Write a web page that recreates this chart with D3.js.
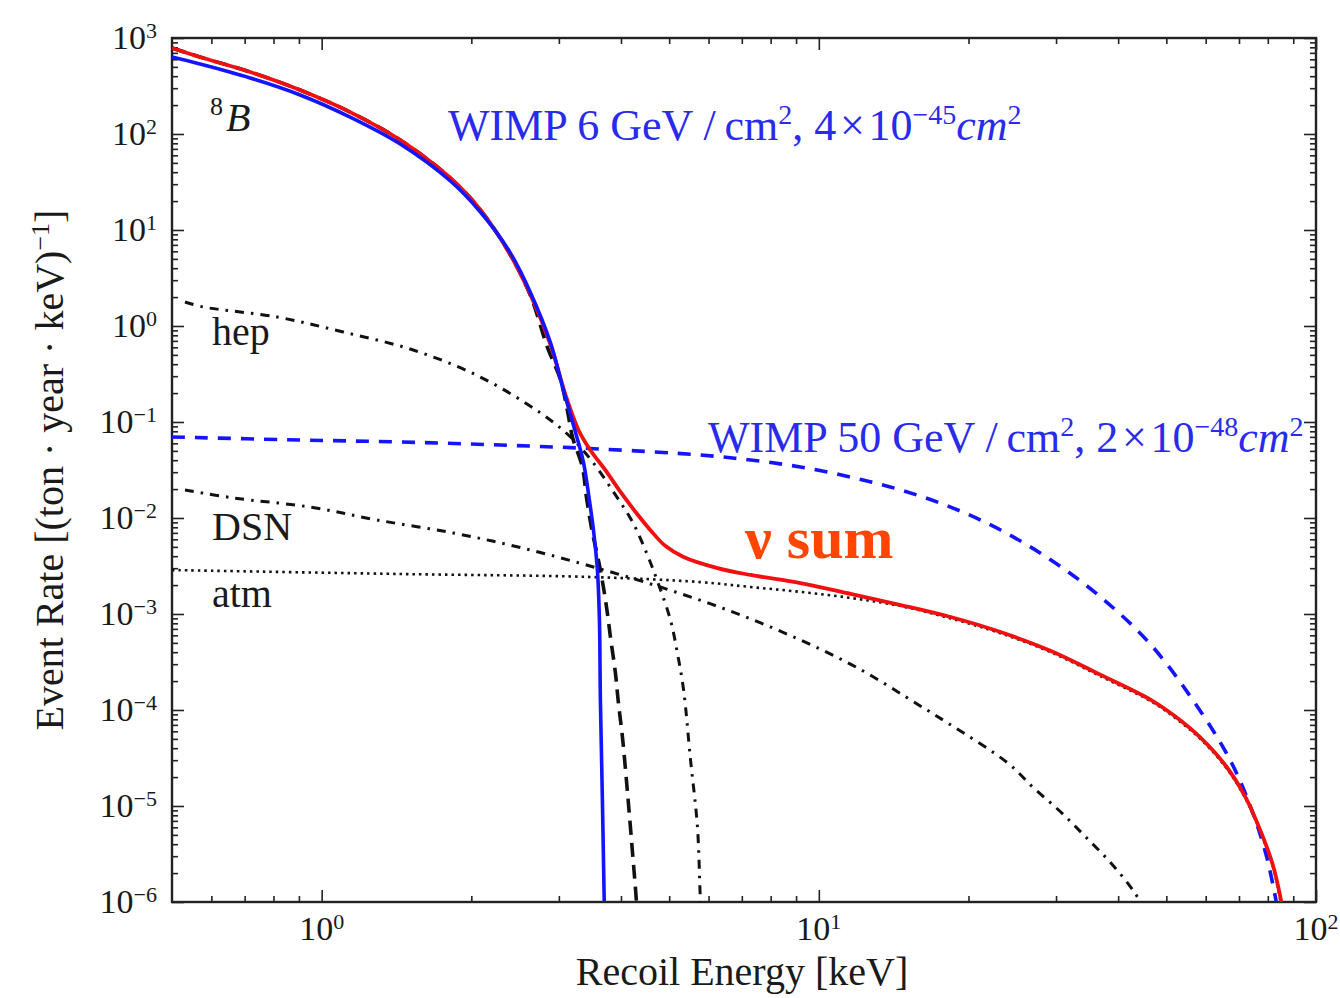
<!DOCTYPE html>
<html>
<head>
<meta charset="utf-8">
<script src="https://cdn.jsdelivr.net/npm/d3@7"></script>
<style>
  body { margin: 0; background: #fff; }
  svg { display: block; }
  text { font-family: "Liberation Serif", "Times New Roman", serif; fill: #1a1a1a; }
</style>
</head>
<body>
<svg id="chart" width="1340" height="998"></svg>
<script>
// ---- data: recoil energy [keV], event rate [(ton·year·keV)^-1] ----
const nuSum = [[0.5,787],[0.569,634],[0.718,443],[0.905,287],[1.141,169],[1.439,86.6],[1.815,34.8],
  [2.086,16.2],[2.397,5.5],[2.632,2.1],[2.887,0.634],[3.094,0.191],[3.285,0.0826],[3.469,0.0511],
  [3.721,0.0316],[3.991,0.0187],[4.28,0.01155],[4.581,0.0075],[4.916,0.0051],[5.343,0.00393],
  [6.255,0.00301],[7.29,0.00255],[9.18,0.0021],[11.58,0.00162],[14.61,0.00124],[18.41,0.00093],
  [23.2,0.000649],[29.3,0.000412],[36.9,0.000232],[46.6,0.000127],[52.3,8.45e-5],[58.7,5.1e-5],
  [65.9,2.61e-5],[72.3,1.21e-5],[77.5,5.36e-6],[82.0,2.37e-6],[85.9,8e-7]];

const wimp6 = [[0.5,634],[0.569,536],[0.718,383],[0.905,255],[1.141,150],[1.439,78.7],[1.815,32.4],
  [2.086,15.4],[2.397,5.75],[2.632,2.21],[2.887,0.665],[3.063,0.215],[3.239,0.0787],[3.361,0.0383],
  [3.455,0.0154],[3.521,0.0075],[3.586,0.00287],[3.62,0.000866],[3.636,1.27e-4],[3.67,1.15e-5],
  [3.704,8e-7]];

const boron8 = [[0.5,787],[0.569,634],[0.718,443],[0.905,287],[1.141,169],[1.439,86.6],[1.815,34.8],
  [2.086,16.2],[2.397,5.5],[2.632,2.05],[2.844,0.604],[3.023,0.274],[3.12,0.133],[3.195,0.0698],
  [3.345,0.034],[3.408,0.01655],[3.505,0.00698],[3.603,0.00365],[3.687,0.00191],[3.756,0.00102],
  [3.809,0.000576],[3.898,0.000243],[3.953,0.000118],[4.027,5.23e-5],[4.123,1.37e-5],[4.22,3.24e-6],
  [4.28,1.33e-6],[4.318,7e-7]];

const hep = [[0.531,1.78],[0.577,1.58],[0.814,1.24],[1.105,0.866],[1.528,0.562],[2.086,0.294],
  [2.757,0.124],[3.166,0.0698],[3.521,0.0374],[3.862,0.0187],[4.22,0.00908],[4.52,0.00412],
  [4.75,0.0021],[5.03,0.000866],[5.194,0.000392],[5.345,0.000162],[5.52,3.02e-5],[5.7,6.04e-6],
  [5.78,1.05e-6],[5.81,8e-7]];

const dsn = [[0.531,0.0196],[0.663,0.0162],[0.948,0.013],[1.293,0.00953],[1.839,0.00698],[2.533,0.00487],
  [3.521,0.00309],[4.797,0.00191],[6.55,0.0011],[8.9,0.000576],[11.97,0.000274],[15.88,0.000113],
  [18.17,7.32e-5],[23.98,2.81e-5],[27.05,1.54e-5],[30.66,8.66e-6],[34.43,4.75e-6],[38.68,2.55e-6],
  [42.83,1.33e-6],[44.9,9e-7]];

const atm = [[0.5,0.00287],[1.439,0.00261],[3.469,0.00243],[5.78,0.00215],[7.29,0.00191],[9.18,0.0017],
  [11.58,0.00147],[14.61,0.00121],[18.41,0.0009],[23.2,0.00063],[29.3,0.0004],[36.9,0.000224],
  [46.6,0.000123],[52.3,8.15e-5],[58.7,4.92e-5],[65.9,2.52e-5],[72.3,1.17e-5],[77.5,5.17e-6],
  [82.0,2.29e-6],[85.6,8e-7]];

const wimp50 = [[0.5,0.0698],[0.905,0.0649],[1.439,0.0619],[2.287,0.0576],[3.636,0.0523],[5.78,0.0453],
  [7.29,0.0402],[9.18,0.034],[11.58,0.0267],[14.61,0.0196],[18.41,0.013],[23.2,0.0075],[29.3,0.00365],
  [36.9,0.0015],[46.6,0.000475],[58.7,9.53e-5],[67.5,2.87e-5],[74.0,9.53e-6],[79.4,3.09e-6],[83.9,8e-7]];

// axis ticks (powers of ten)
const xTickExp = [0, 1, 2];
const yTickExp = [3, 2, 1, 0, -1, -2, -3, -4, -5, -6];
const xMinorTicks = [0.6,0.7,0.8,0.9,2,3,4,5,6,7,8,9,20,30,40,50,60,70,80,90];
const yMinorMult = [2,3,4,5,6,7,8,9];

// ---- layout ----
const plot = { left: 172, right: 1316, top: 38, bottom: 902 };
const svg = d3.select("#chart");

const x = d3.scaleLog().domain([0.5, 100]).range([plot.left, plot.right]);
const y = d3.scaleLog().domain([1e-6, 1e3]).range([plot.bottom, plot.top]);

const yMinorTicks = [];
for (let d = -6; d < 3; d++) yMinorMult.forEach(k => yMinorTicks.push(k * Math.pow(10, d)));

const tickColor = "#222";
function styleAxis(g) {
  g.select(".domain").remove();
  g.selectAll(".tick line").attr("stroke", tickColor).attr("stroke-width", 1.6);
  g.selectAll(".tick text").remove();
}

// inward-pointing ticks on all four sides
const xMajorVals = xTickExp.map(e => Math.pow(10, e));
const yMajorVals = yTickExp.map(e => Math.pow(10, e));
[[d3.axisBottom, plot.bottom], [d3.axisTop, plot.top]].forEach(([ax, pos]) => {
  svg.append("g").attr("transform", `translate(0,${pos})`)
    .call(ax(x).tickValues(xMajorVals).tickSize(-12).tickSizeOuter(0)).call(styleAxis);
  svg.append("g").attr("transform", `translate(0,${pos})`)
    .call(ax(x).tickValues(xMinorTicks).tickSize(-6).tickSizeOuter(0)).call(styleAxis);
});
[[d3.axisLeft, plot.left], [d3.axisRight, plot.right]].forEach(([ax, pos]) => {
  svg.append("g").attr("transform", `translate(${pos},0)`)
    .call(ax(y).tickValues(yMajorVals).tickSize(-12).tickSizeOuter(0)).call(styleAxis);
  svg.append("g").attr("transform", `translate(${pos},0)`)
    .call(ax(y).tickValues(yMinorTicks).tickSize(-6).tickSizeOuter(0)).call(styleAxis);
});

// frame
svg.append("rect")
  .attr("x", plot.left).attr("y", plot.top)
  .attr("width", plot.right - plot.left).attr("height", plot.bottom - plot.top)
  .attr("fill", "none").attr("stroke", tickColor).attr("stroke-width", 2.4);

// tick labels as 10^n with real superscripts
function expText(e) { return e < 0 ? "\u2212" + (-e) : String(e); }
function powerLabel(t, e) {
  t.append("tspan").text("10");
  t.append("tspan").attr("dy", -11).attr("font-size", 22).text(expText(e));
}
yTickExp.forEach(e => {
  const t = svg.append("text")
    .attr("x", 157).attr("y", y(Math.pow(10, e)) + 11)
    .attr("text-anchor", "end").attr("font-size", 34);
  powerLabel(t, e);
});
xTickExp.forEach(e => {
  const t = svg.append("text")
    .attr("x", x(Math.pow(10, e))).attr("y", 940)
    .attr("text-anchor", "middle").attr("font-size", 34);
  powerLabel(t, e);
});

// axis titles
svg.append("text").attr("x", 742).attr("y", 985)
  .attr("text-anchor", "middle").attr("font-size", 40).text("Recoil Energy [keV]");
const yt = svg.append("text")
  .attr("transform", "translate(63,470) rotate(-90)")
  .attr("text-anchor", "middle").attr("font-size", 40);
yt.append("tspan").text("Event Rate [(ton \u00b7 year \u00b7 keV)");
yt.append("tspan").attr("dy", -14).attr("font-size", 26).text("\u22121");
yt.append("tspan").attr("dy", 14).text("]");

// curves
svg.append("clipPath").attr("id", "plot-clip").append("rect")
  .attr("x", plot.left).attr("y", plot.top)
  .attr("width", plot.right - plot.left).attr("height", plot.bottom - plot.top);
const curves = svg.append("g").attr("clip-path", "url(#plot-clip)");
const line = d3.line()
  .x(d => x(d[0])).y(d => y(d[1]))
  .curve(d3.curveCatmullRom.alpha(0.5));

const series = [
  { data: atm,    color: "#111", width: 2.6, dash: "2.5,4" },
  { data: dsn,    color: "#111", width: 3,   dash: "9,7,2.5,7" },
  { data: hep,    color: "#111", width: 3,   dash: "9,7,2.5,7" },
  { data: boron8, color: "#111", width: 3.6, dash: "14,8" },
  { data: wimp50, color: "#1414ff", width: 3.6, dash: "13,10" },
  { data: nuSum,  color: "#f01010", width: 3.8, dash: null },
  { data: wimp6,  color: "#1414ff", width: 3.6, dash: null }
];
series.forEach(s => {
  curves.append("path").datum(s.data)
    .attr("d", line)
    .attr("fill", "none")
    .attr("stroke", s.color)
    .attr("stroke-width", s.width)
    .attr("stroke-dasharray", s.dash)
    .attr("stroke-linejoin", "round");
});

// curve annotations
const b8 = svg.append("text").attr("x", 210).attr("y", 131).attr("font-size", 40);
b8.append("tspan").attr("font-size", 26).attr("dy", -16).text("8");
b8.append("tspan").attr("font-style", "italic").attr("dy", 16).attr("dx", 3).text("B");

svg.append("text").attr("x", 212).attr("y", 345).attr("font-size", 40).text("hep");
svg.append("text").attr("x", 212).attr("y", 540).attr("font-size", 40).text("DSN");
svg.append("text").attr("x", 212).attr("y", 607).attr("font-size", 40).text("atm");

const wimpColor = "#2a2aec";
function wimpLabel(xp, yp, mass, coeff, exp) {
  const t = svg.append("text").attr("x", xp).attr("y", yp).attr("font-size", 44)
    .style("fill", wimpColor);
  t.append("tspan").text(`WIMP ${mass} GeV /\u2009cm`);
  t.append("tspan").attr("dy", -16).attr("font-size", 28).text("2");
  t.append("tspan").attr("dy", 16).text(`, ${coeff}\u200a\u00d7\u200a10`);
  t.append("tspan").attr("dy", -16).attr("font-size", 28).text(expText(exp));
  t.append("tspan").attr("dy", 16).attr("font-style", "italic").text("cm");
  t.append("tspan").attr("dy", -16).attr("font-size", 28).text("2");
}
wimpLabel(448, 140, 6, 4, -45);
wimpLabel(708, 452, 50, 2, -48);

svg.append("text").attr("x", 745).attr("y", 558)
  .attr("font-size", 60).attr("font-weight", "bold")
  .style("fill", "#ff4500").text("\u03bd sum");
</script>
</body>
</html>
